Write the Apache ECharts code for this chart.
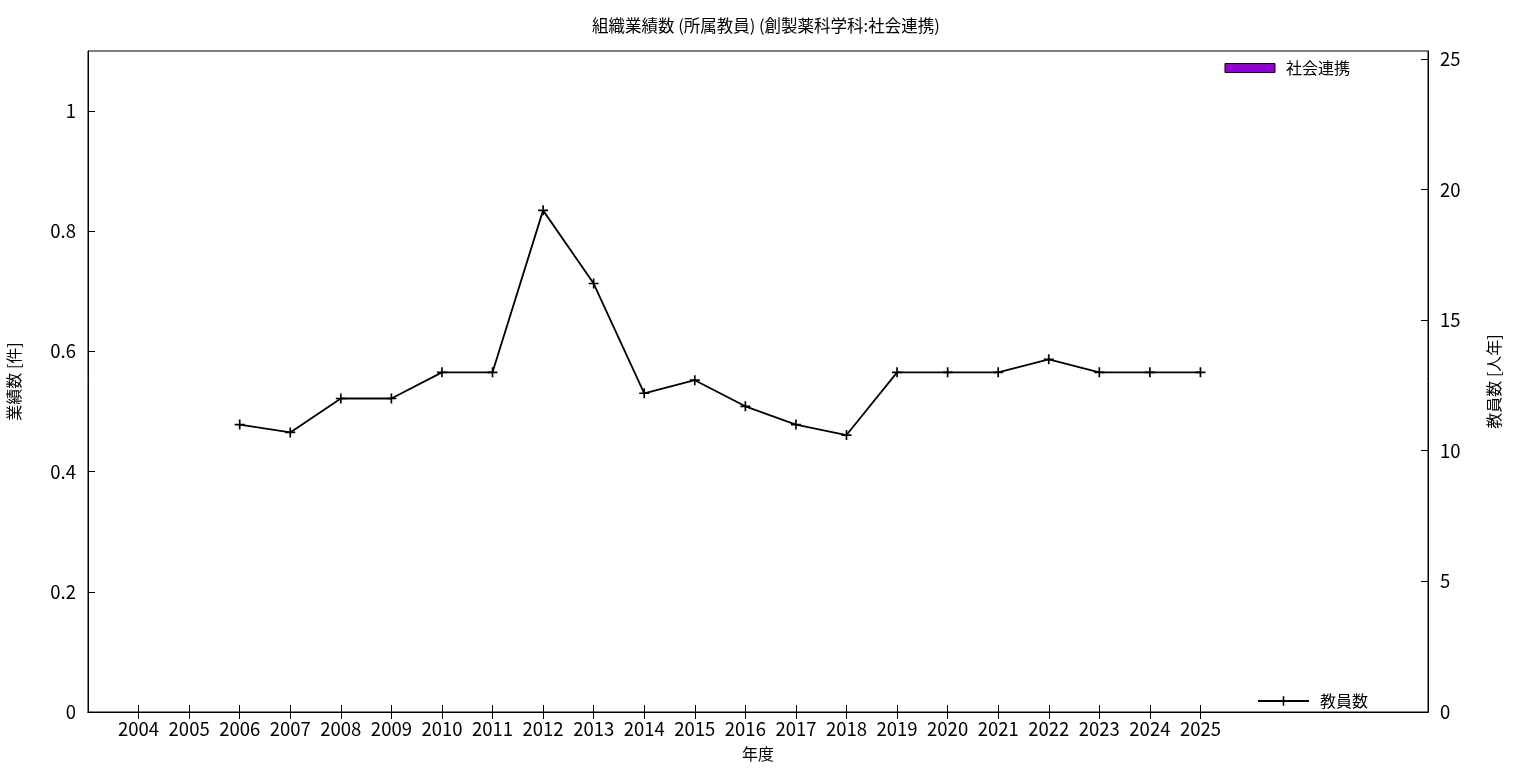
<!DOCTYPE html>
<html><head><meta charset="utf-8">
<script src="https://cdn.jsdelivr.net/npm/echarts@6/dist/echarts.min.js"></script>
<style>html,body{margin:0;padding:0;background:#fff}#c{width:1536px;height:768px}</style>
</head><body><div id="c"></div>
<script>
const years = [2004,2005,2006,2007,2008,2009,2010,2011,2012,2013,2014,2015,2016,2017,2018,2019,2020,2021,2022,2023,2024,2025];
const socialValues = [0,0,0,0,0,0,0,0,0,0,0,0,0,0,0,0,0,0,0,0,0,0];
const staffYears = [2006,2007,2008,2009,2010,2011,2012,2013,2014,2015,2016,2017,2018,2019,2020,2021,2022,2023,2024,2025];
const staffValues = [11,10.7,12,12,13,13,19.2,16.4,12.2,12.7,11.7,11,10.6,13,13,13,13.5,13,13,13];
const leftTicks = [0,0.2,0.4,0.6,0.8,1];
const rightTicks = [0,5,10,15,20,25];

const FONT = '"Noto Sans CJK JP", "Noto Sans", sans-serif';
const chart = echarts.init(document.getElementById('c'), null, {renderer:'canvas'});
const plusPath = 'path://M4,0h1.6v4h4v1.6h-4v4h-1.6v-4h-4v-1.6h4z';
chart.setOption({
  animation:false,
  textStyle:{fontFamily:FONT, color:'#000'},
  title:{text:'組織業績数 (所属教員) (創製薬科学科:社会連携)', left:587, top:12,
    textStyle:{fontSize:16.5, fontWeight:'normal', color:'#000', fontFamily:FONT}},
  grid:{left:88, right:108, top:51, bottom:56, show:true, borderColor:'#000', borderWidth:1, outerBoundsMode:'none', containLabel:false},
  legend:[
    {data:[{name:'社会連携', icon:'rect', itemStyle:{color:'#9400d3', borderColor:'#000', borderWidth:1}}],
      right:181, top:55, itemWidth:50, itemHeight:9, itemGap:10,
      textStyle:{fontSize:16, color:'#000', fontFamily:FONT, padding:[0,0,0,6]}},
    {data:[{name:'教員数'}], right:163, top:688, itemWidth:51, itemHeight:12,
      textStyle:{fontSize:16, color:'#000', fontFamily:FONT, padding:[0,0,0,6]}}
  ],
  xAxis:[
    {type:'value', min:2003, max:2029.5, position:'bottom',
      name:'年度', nameLocation:'middle', nameGap:34, nameTextStyle:{fontSize:16, color:'#000'},
      axisLine:{show:true, lineStyle:{color:'#000'}},
      axisTick:{show:true, inside:true, length:7, lineStyle:{color:'#000'}, customValues:years},
      axisLabel:{show:true, fontSize:18.5, color:'#000', margin:8, customValues:years, formatter:v=>String(v)},
      splitLine:{show:false}},
    {type:'value', min:2003, max:2029.5, position:'top',
      axisLine:{show:true, lineStyle:{color:'#000'}},
      axisTick:{show:true, inside:true, length:7, lineStyle:{color:'#000'}, customValues:years},
      axisLabel:{show:false}, splitLine:{show:false}}
  ],
  yAxis:[
    {type:'value', min:0, max:1.1, position:'left',
      name:'業績数 [件]', nameLocation:'middle', nameGap:66, nameRotate:90,
      nameTextStyle:{fontSize:16, color:'#000'},
      axisLine:{show:true, lineStyle:{color:'#000'}},
      axisTick:{show:true, inside:true, length:7, lineStyle:{color:'#000'}, customValues:leftTicks},
      axisLabel:{fontSize:18.5, color:'#000', margin:12, customValues:leftTicks, formatter:v=>String(+(+v).toFixed(1))},
      splitLine:{show:false}},
    {type:'value', min:0, max:25.3, position:'right',
      name:'教員数 [人年]', nameLocation:'middle', nameGap:58, nameRotate:90,
      nameTextStyle:{fontSize:16, color:'#000'},
      axisLine:{show:true, lineStyle:{color:'#000'}},
      axisTick:{show:true, inside:true, length:7, lineStyle:{color:'#000'}, customValues:rightTicks},
      axisLabel:{fontSize:18.5, color:'#000', margin:12, customValues:rightTicks, formatter:v=>String(v)},
      splitLine:{show:false}}
  ],
  series:[
    {name:'社会連携', type:'bar', xAxisIndex:0, yAxisIndex:0, barWidth:30,
      itemStyle:{color:'#9400d3', borderColor:'#000', borderWidth:0},
      data:years.map((y,i)=>[y, socialValues[i]])},
    {name:'教員数', type:'line', xAxisIndex:0, yAxisIndex:1,
      symbol:plusPath, symbolSize:10, showAllSymbol:true,
      lineStyle:{color:'#000', width:1.8}, itemStyle:{color:'#000'},
      data:staffYears.map((y,i)=>[y, staffValues[i]])}
  ]
});
</script></body></html>
